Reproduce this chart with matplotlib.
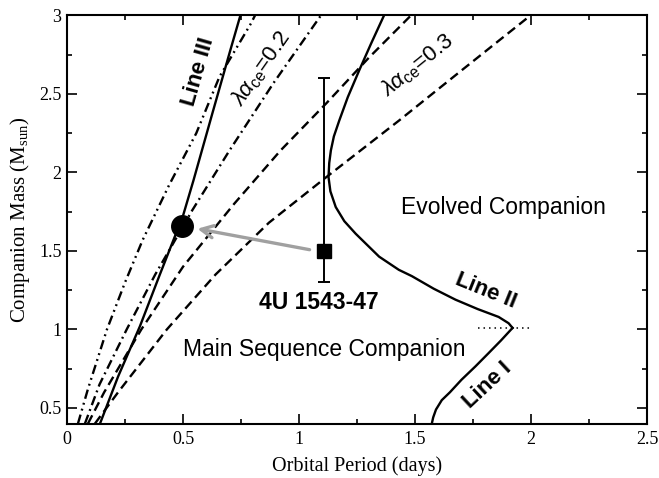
import numpy as np
import matplotlib
matplotlib.use("Agg")
import matplotlib.pyplot as plt
from matplotlib.ticker import MultipleLocator

# curves: (period in days, companion mass in Msun)
line3_p = [0.142, 0.22, 0.314, 0.40, 0.464, 0.495, 0.545, 0.627, 0.704, 0.747]
line3_m = [0.40, 0.70, 1.02, 1.35, 1.59, 1.70, 1.95, 2.38, 2.78, 3.00]

dd_p = [0.047, 0.09, 0.172, 0.25, 0.326, 0.44, 0.557, 0.657, 0.793, 0.81]
dd_m = [0.40, 0.62, 1.00, 1.30, 1.57, 1.92, 2.25, 2.61, 2.95, 3.00]

dot_p = [0.077, 0.14, 0.257, 0.38, 0.54, 0.70, 0.89, 1.094]
dot_m = [0.40, 0.65, 1.00, 1.35, 1.76, 2.14, 2.57, 3.00]

dash1_p = [0.09, 0.16, 0.32, 0.50, 0.72, 0.92, 1.117, 1.30, 1.482]
dash1_m = [0.40, 0.60, 1.00, 1.40, 1.80, 2.14, 2.44, 2.73, 3.00]

dash2_p = [0.12, 0.22, 0.43, 0.64, 0.87, 1.117, 1.43, 1.70, 1.997]
dash2_m = [0.40, 0.60, 1.00, 1.35, 1.68, 1.97, 2.33, 2.65, 3.00]

line2_p = [1.366, 1.31, 1.259, 1.21, 1.173, 1.15, 1.137, 1.13, 1.127, 1.135,
           1.158, 1.195, 1.244, 1.345, 1.43, 1.486, 1.58, 1.674, 1.77, 1.86,
           1.903, 1.92]
line2_m = [3.00, 2.82, 2.65, 2.48, 2.33, 2.23, 2.14, 2.06, 1.97, 1.88,
           1.78, 1.69, 1.61, 1.464, 1.38, 1.34, 1.26, 1.19, 1.13, 1.08,
           1.04, 1.01]

line1_p = [1.92, 1.87, 1.817, 1.76, 1.70, 1.65, 1.615, 1.59, 1.578, 1.572]
line1_m = [1.01, 0.93, 0.85, 0.765, 0.68, 0.60, 0.55, 0.49, 0.44, 0.40]

dotted_p = [1.77, 2.01]
dotted_m = [1.01, 1.01]

src_p, src_m = 1.108, 1.50
src_lo, src_hi = 1.30, 2.60
target_p, target_m = 0.494, 1.66

serif = ['Liberation Serif', 'DejaVu Serif']
sans = ['Liberation Sans', 'DejaVu Sans']
plt.rcParams['mathtext.fontset'] = 'custom'
plt.rcParams['mathtext.rm'] = 'Liberation Sans'
plt.rcParams['mathtext.it'] = 'Liberation Sans:italic'

fig = plt.figure(figsize=(6.59, 4.78), dpi=100)
ax = fig.add_axes([0.1017, 0.1136, 0.8803, 0.854])

dash = [4.0, 2.2]
dashdot = [4.0, 1.8, 0.8, 1.8]
dashdotdot = [4.0, 1.8, 0.8, 1.8, 0.8, 1.8]

ax.plot(line3_p, line3_m, color='black', lw=1.7)
ax.plot(dd_p, dd_m, color='black', lw=1.7, dashes=dashdotdot)
ax.plot(dot_p, dot_m, color='black', lw=1.7, dashes=dashdot)
ax.plot(dash1_p, dash1_m, color='black', lw=1.7, dashes=dash)
ax.plot(dash2_p, dash2_m, color='black', lw=1.7, dashes=dash)
ax.plot(line2_p, line2_m, color='black', lw=1.7)
ax.plot(line1_p, line1_m, color='black', lw=1.7)
ax.plot(dotted_p, dotted_m, color='black', lw=1.1, ls=(0, (1, 2.6)))

# 4U 1543-47 with its mass range
ax.errorbar([src_p], [src_m], yerr=[[src_m - src_lo], [src_hi - src_m]],
            fmt='s', color='black', ms=10.5, capsize=4.5, elinewidth=1.4,
            capthick=1.4)
ax.plot([target_p], [target_m], 'o', color='black', ms=15.5)
ax.annotate('', xy=(0.55, 1.645), xytext=(1.057, 1.505),
            arrowprops=dict(arrowstyle='->', color='#a0a0a0', lw=2.4,
                            mutation_scale=22))

ax.text(0.567, 2.64, 'Line III', rotation=74, ha='center', va='center',
        fontsize=16, fontweight='bold', family=sans)
ax.text(0.835, 2.66, r'$\lambda\alpha_{\mathrm{ce}}$=0.2', rotation=55,
        ha='center', va='center', fontsize=16, family=sans)
ax.text(1.51, 2.68, r'$\lambda\alpha_{\mathrm{ce}}$=0.3', rotation=39,
        ha='center', va='center', fontsize=16, family=sans)
ax.text(1.805, 1.247, 'Line II', rotation=-22, ha='center', va='center',
        fontsize=16, fontweight='bold', family=sans)
ax.text(1.813, 0.646, 'Line I', rotation=43, ha='center', va='center',
        fontsize=16, fontweight='bold', family=sans)
ax.text(1.88, 1.774, 'Evolved Companion', ha='center', va='center',
        fontsize=16.5, family=sans)
ax.text(1.11, 0.87, 'Main Sequence Companion', ha='center', va='center',
        fontsize=16.5, family=sans)
ax.text(1.087, 1.175, '4U 1543-47', ha='center', va='center',
        fontsize=16.5, fontweight='bold', family=sans)

ax.set_xlim(0, 2.5)
ax.set_ylim(0.4, 3)
ax.xaxis.set_minor_locator(MultipleLocator(0.25))
ax.yaxis.set_minor_locator(MultipleLocator(0.25))
ax.set_xticks([0, 0.5, 1, 1.5, 2, 2.5])
ax.set_xticklabels(['0', '0.5', '1', '1.5', '2', '2.5'])
ax.set_yticks([0.5, 1, 1.5, 2, 2.5, 3])
ax.set_yticklabels(['0.5', '1', '1.5', '2', '2.5', '3'])
ax.tick_params(which='both', direction='in', top=True, right=True,
               width=1.2, labelsize=13)
ax.tick_params(which='major', length=7)
ax.tick_params(which='minor', length=3.5)
ax.tick_params(axis='x', which='major', pad=5)
ax.tick_params(axis='y', which='major', pad=4)
for lab in ax.get_xticklabels() + ax.get_yticklabels():
    lab.set_family(serif)
for sp in ax.spines.values():
    sp.set_linewidth(1.5)

ax.set_xlabel('Orbital Period (days)', fontsize=14.5, family=serif, labelpad=6)
ax.set_ylabel('Companion Mass (M$_{\\mathregular{sun}}$)', fontsize=15,
              family=serif, labelpad=5)

fig.savefig('out.png', dpi=100)
